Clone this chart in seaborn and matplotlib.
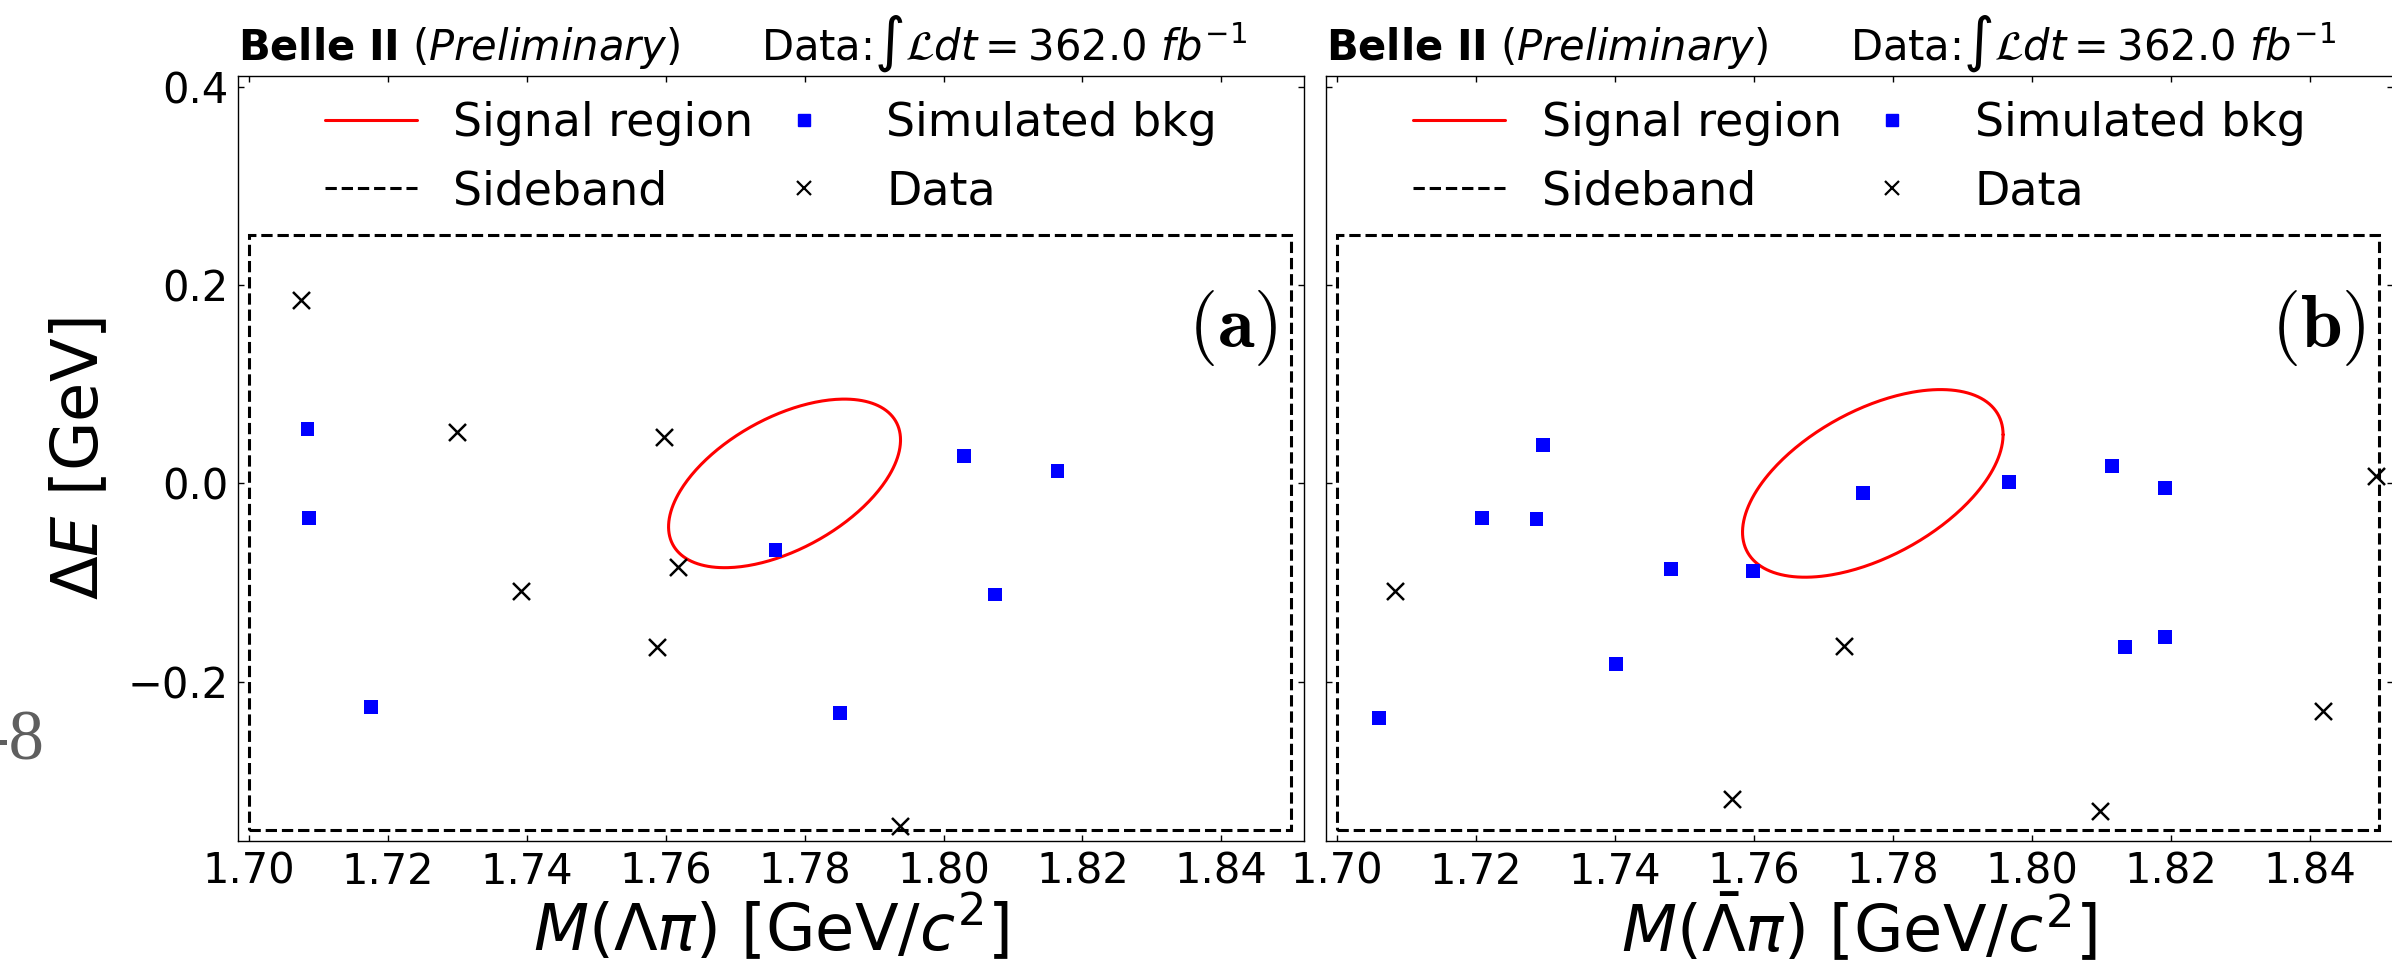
import numpy as np
import matplotlib
matplotlib.use("Agg")
import matplotlib.pyplot as plt
import seaborn as sns
from matplotlib.lines import Line2D
from matplotlib.patches import Rectangle

# panel (a): M(Lambda pi)
bkg_a_m = [1.7084, 1.7086, 1.7176, 1.7758, 1.7851, 1.8029, 1.8074, 1.8164]
bkg_a_de = [0.0548, -0.0347, -0.2253, -0.0673, -0.2313, 0.0279, -0.1120, 0.0124]
data_a_m = [1.7075, 1.7299, 1.7391, 1.7588, 1.7597, 1.7618, 1.7937]
data_a_de = [0.1849, 0.0514, -0.1083, -0.1648, 0.0464, -0.0847, -0.3453]

# panel (b): M(anti-Lambda pi)
bkg_b_m = [1.7060, 1.7209, 1.7287, 1.7296, 1.7401, 1.7481, 1.7599, 1.7757,
           1.7967, 1.8115, 1.8134, 1.8191, 1.8191]
bkg_b_de = [-0.2370, -0.0347, -0.0357, 0.0386, -0.1825, -0.0864, -0.0881, -0.0095,
            0.0016, 0.0177, -0.1654, -0.0044, -0.1550]
data_b_m = [1.7084, 1.7568, 1.7729, 1.8098, 1.8419, 1.8495]
data_b_de = [-0.1083, -0.3186, -0.1638, -0.3304, -0.2296, 0.0074]

# signal region ellipses: centre, half extents, correlation
signal_a = [1.7771, 0.0, 0.0167, 0.085, 0.515]
signal_b = [1.7771, 0.0, 0.01875, 0.0946, 0.52]

# sideband box
sideband_m = [1.70, 1.85]
sideband_de = [-0.35, 0.25]

x_ticks = [1.70, 1.72, 1.74, 1.76, 1.78, 1.80, 1.82, 1.84]
y_ticks = [-0.2, 0.0, 0.2, 0.4]

sns.set_style("ticks")
plt.rcParams["font.family"] = ["DejaVu Sans"]
plt.rcParams["mathtext.fontset"] = "dejavusans"
plt.rcParams["text.color"] = "black"
plt.rcParams["axes.labelcolor"] = "black"
plt.rcParams["xtick.color"] = "black"
plt.rcParams["ytick.color"] = "black"
plt.rcParams["xtick.direction"] = "in"
plt.rcParams["ytick.direction"] = "in"
plt.rcParams["xtick.top"] = True
plt.rcParams["ytick.right"] = True

W, H = 2392, 961
fig = plt.figure(figsize=(W / 100, H / 100), dpi=100)
ax_a = fig.add_axes([238 / W, 1 - 841 / H, 1066 / W, 765 / H])
ax_b = fig.add_axes([1326 / W, 1 - 841 / H, 1066.5 / W, 765 / H])


def ellipse_curve(p):
    cx, cy, hx, hy, rho = p
    t = np.linspace(0, 2 * np.pi, 300)
    return cx + hx * np.cos(t), cy + hy * (rho * np.cos(t) + np.sqrt(1 - rho ** 2) * np.sin(t))


def draw_panel(ax, bkg_m, bkg_de, data_m, data_de, sig, tag, xlabel):
    ex, ey = ellipse_curve(sig)
    ax.plot(ex, ey, color="red", lw=2.2, zorder=3)
    ax.add_patch(Rectangle((sideband_m[0], sideband_de[0]),
                           sideband_m[1] - sideband_m[0], sideband_de[1] - sideband_de[0],
                           fill=False, ls="--", lw=2.2, ec="black", zorder=2))
    sns.scatterplot(x=bkg_m, y=bkg_de, ax=ax, marker="s", s=100, color="#0000ff",
                    edgecolor="none", zorder=4)
    sns.scatterplot(x=data_m, y=data_de, ax=ax, marker="x", s=150, color="black",
                    linewidth=1.8, zorder=4)
    ax.set_xlim(1.6984, 1.8519)
    ax.set_ylim(-0.3606, 0.4108)
    ax.set_xticks(x_ticks)
    ax.set_xticklabels([f"{v:.2f}" for v in x_ticks])
    ax.set_yticks(y_ticks)
    ax.tick_params(labelsize=30, length=4, width=1, pad=7)
    for s in ax.spines.values():
        s.set_linewidth(1.0)
        s.set_color("black")
    ax.set_xlabel(xlabel, fontsize=46, labelpad=0)

    ax.text(1.848, 0.157, r"$\mathbf{(" + tag + r")}$", ha="right", va="center",
            fontsize=54, math_fontfamily="cm")
    ax.text(0.0, 1.021, r"$\bf{Belle\ II}$ ($\it{Preliminary}$)", transform=ax.transAxes,
            ha="left", va="baseline", fontsize=30)
    ax.text(0.491, 1.021, r"Data:$\int\mathcal{L}dt = 362.0\ fb^{-1}$", transform=ax.transAxes,
            ha="left", va="baseline", fontsize=30)

    handles = [
        Line2D([], [], color="red", lw=2.2),
        Line2D([], [], color="black", lw=2.2, ls="--"),
        Line2D([], [], color="#0000ff", marker="s", ls="none", markersize=9),
        Line2D([], [], color="black", marker="x", ls="none", markersize=10, mew=1.6),
    ]
    labels = ["Signal region", "Sideband", "Simulated bkg", "Data"]
    ax.legend(handles, labels, loc="upper center", bbox_to_anchor=(0.5, 1.0), ncol=2,
              frameon=False, fontsize=33, columnspacing=0.1, handlelength=2.0,
              handletextpad=0.8, borderaxespad=0.15)


draw_panel(ax_a, bkg_a_m, bkg_a_de, data_a_m, data_a_de, signal_a, "a",
           r"$M(\Lambda\pi)$ [GeV/$c^2$]")
draw_panel(ax_b, bkg_b_m, bkg_b_de, data_b_m, data_b_de, signal_b, "b",
           r"$M(\bar{\Lambda}\pi)$ [GeV/$c^2$]")

ax_a.set_ylabel(r"$\Delta E$ [GeV]", fontsize=46, labelpad=12)
ax_b.tick_params(labelleft=False)

fig.text(44 / W, 1 - 760 / H, "-8", ha="right", va="baseline", fontsize=51,
         color="#5f5f5f", family="Liberation Serif")

fig.savefig("out.png", dpi=100)
